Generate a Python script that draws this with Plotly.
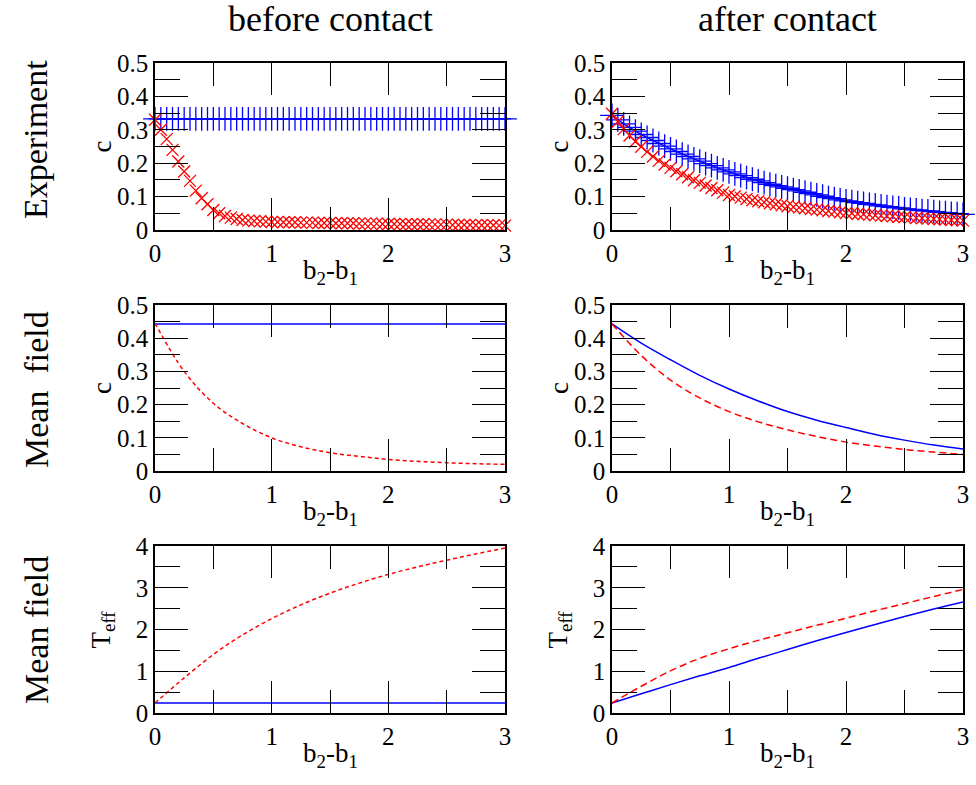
import numpy as np
import plotly.graph_objects as go

# ---------------- data ----------------
x_exp = [round(i * 0.05, 2) for i in range(61)]

exp_before_blue = [0.333] * 61
exp_before_red = [0.330, 0.300, 0.272, 0.240, 0.205, 0.175, 0.147, 0.118, 0.095, 0.077,
                  0.060, 0.050, 0.042, 0.037, 0.033, 0.030, 0.028, 0.027, 0.026, 0.025,
                  0.024,
                  0.024, 0.023, 0.023, 0.023, 0.022, 0.022, 0.022, 0.021, 0.021, 0.021,
                  0.020, 0.020, 0.020, 0.020, 0.019, 0.019, 0.019, 0.019, 0.018, 0.018,
                  0.018, 0.018, 0.017, 0.017, 0.017, 0.017, 0.016, 0.016, 0.016, 0.016,
                  0.015, 0.015, 0.015, 0.015, 0.014, 0.014, 0.014, 0.014, 0.013, 0.013]

exp_after_blue = [0.343, 0.330, 0.318, 0.307, 0.296, 0.286, 0.277, 0.268, 0.259, 0.251,
                  0.243, 0.235, 0.227, 0.220, 0.213, 0.206, 0.199, 0.193, 0.186, 0.180,
                  0.174, 0.168, 0.163, 0.157, 0.152, 0.147, 0.142, 0.137, 0.133, 0.129,
                  0.125, 0.121, 0.117, 0.113, 0.109, 0.105, 0.101, 0.097, 0.094, 0.090,
                  0.087, 0.085, 0.082, 0.080, 0.077, 0.075, 0.072, 0.070, 0.068, 0.066,
                  0.063, 0.062, 0.060, 0.058, 0.057, 0.055, 0.053, 0.052, 0.050, 0.049,
                  0.047]
exp_after_red = [0.348, 0.325, 0.302, 0.283, 0.265, 0.249, 0.234, 0.220, 0.207, 0.196,
                 0.186, 0.176, 0.167, 0.158, 0.149, 0.141, 0.133, 0.126, 0.119, 0.112,
                 0.105, 0.101, 0.097, 0.093, 0.089, 0.086, 0.083, 0.080, 0.077, 0.074,
                 0.071, 0.069, 0.067, 0.065, 0.063, 0.061, 0.059, 0.057, 0.055, 0.053,
                 0.051, 0.050, 0.048, 0.047, 0.046, 0.044, 0.043, 0.042, 0.041, 0.039,
                 0.038, 0.037, 0.036, 0.035, 0.034, 0.033, 0.032, 0.031, 0.030, 0.029,
                 0.028]

x_mf = [0, 0.25, 0.5, 0.75, 1.0, 1.25, 1.5, 1.75, 2.0, 2.25, 2.5, 2.75, 3.0]

mf_c_before_blue = [0.443] * 13
mf_c_before_red = [0.445, 0.300, 0.204, 0.143, 0.100, 0.073, 0.055, 0.044, 0.035, 0.029, 0.025, 0.022, 0.020]
mf_c_after_blue = [0.443, 0.385, 0.335, 0.288, 0.247, 0.211, 0.179, 0.153, 0.131, 0.110, 0.093, 0.078, 0.066]
mf_c_after_red = [0.443, 0.348, 0.274, 0.220, 0.179, 0.148, 0.124, 0.104, 0.087, 0.075, 0.065, 0.057, 0.050]

mf_T_before_blue = [0.24] * 13
mf_T_before_red = [0.24, 0.84, 1.40, 1.87, 2.26, 2.59, 2.87, 3.11, 3.32, 3.50, 3.66, 3.81, 3.95]
mf_T_after_blue = [0.24, 0.46, 0.68, 0.89, 1.09, 1.31, 1.52, 1.73, 1.93, 2.12, 2.31, 2.49, 2.66]
mf_T_after_red = [0.24, 0.64, 1.01, 1.31, 1.54, 1.74, 1.92, 2.10, 2.27, 2.45, 2.62, 2.79, 2.96]

col_titles = ["before contact", "after contact"]
row_titles = ["Experiment", "Mean\u00a0\u00a0field", "Mean field"]

# ---------------- layout ----------------
W, H = 976, 785
FONT = "Liberation Serif, Times New Roman, serif"
BLUE = "#0000ff"
RED = "#ff0000"
DASH_L = "4px,3px"
DASH_R = "7px,4px"

xpix = [(155, 505), (612, 963)]
xdom = [(a / W, b / W) for (a, b) in xpix]
ypix = [(63, 230), (305, 471), (546, 713)]
ydom = [(1 - b / H, 1 - t / H) for (t, b) in ypix]

fig = go.Figure()

def ax_name(i):
    return "" if i == 1 else str(i)

panels = []
idx = 0
for r in range(3):
    for c in range(2):
        idx += 1
        panels.append((r, c, idx))

for r, c, i in panels:
    xa = "xaxis" + ax_name(i)
    ya = "yaxis" + ax_name(i)
    if r < 2:
        yrange, ydt, ymin = [0, 0.5], 0.1, 0.05
    else:
        yrange, ydt, ymin = [0, 4], 1, 0.5
    fig.layout[xa] = dict(
        domain=xdom[c], anchor="y" + ax_name(i), range=[0, 3], dtick=1, tick0=0,
        showgrid=False, zeroline=False, showline=True, linecolor="black", linewidth=1.5,
        mirror="ticks", ticks="inside", ticklen=32, tickwidth=1.3, tickcolor="black",
        minor=dict(dtick=0.5, ticks="inside", ticklen=23, tickwidth=1.3, tickcolor="black", showgrid=False),
        tickfont=dict(family=FONT, size=25, color="black"), fixedrange=True, automargin=False,
    )
    fig.layout[ya] = dict(
        domain=ydom[r], anchor="x" + ax_name(i), range=yrange, dtick=ydt, tick0=0,
        showgrid=False, zeroline=False, showline=True, linecolor="black", linewidth=1.5,
        mirror="ticks", ticks="inside", ticklen=33, tickwidth=1.3, tickcolor="black",
        minor=dict(dtick=ymin, ticks="inside", ticklen=25, tickwidth=1.3, tickcolor="black", showgrid=False),
        tickfont=dict(family=FONT, size=25, color="black"), fixedrange=True, automargin=False,
    )

def add(i, x, y, mode, color, dash=None, symbol=None, size=None):
    kw = dict(x=x, y=y, mode=mode, xaxis="x" + ax_name(i), yaxis="y" + ax_name(i),
              showlegend=False, hoverinfo="skip", cliponaxis=False)
    if "lines" in mode:
        kw["line"] = dict(color=color, width=1.5, dash=dash or "solid", shape="spline" if len(x) < 20 else "linear")
    if "markers" in mode:
        kw["marker"] = dict(symbol=symbol, size=size, color=color, line=dict(color=color, width=1.3))
    fig.add_trace(go.Scatter(**kw))

# Experiment row
add(1, x_exp, exp_before_blue, "lines+markers", BLUE, symbol="cross-thin-open", size=17)
add(1, x_exp, exp_before_red, "markers", RED, symbol="x-thin-open", size=12)
add(2, x_exp, exp_after_blue, "lines+markers", BLUE, symbol="cross-thin-open", size=17)
add(2, x_exp, exp_after_red, "markers", RED, symbol="x-thin-open", size=12)
# Mean field c
add(3, x_mf, mf_c_before_blue, "lines", BLUE)
add(3, x_mf, mf_c_before_red, "lines", RED, dash=DASH_L)
add(4, x_mf, mf_c_after_blue, "lines", BLUE)
add(4, x_mf, mf_c_after_red, "lines", RED, dash=DASH_R)
# Mean field Teff
add(5, x_mf, mf_T_before_blue, "lines", BLUE)
add(5, x_mf, mf_T_before_red, "lines", RED, dash=DASH_L)
add(6, x_mf, mf_T_after_blue, "lines", BLUE)
add(6, x_mf, mf_T_after_red, "lines", RED, dash=DASH_R)

ann = []
def A(text, px, py, size, angle=0):
    ann.append(dict(text=text, x=px / W, y=1 - py / H, xref="paper", yref="paper",
                    xanchor="center", yanchor="middle", showarrow=False, textangle=angle,
                    font=dict(family=FONT, size=size, color="black")))

A(col_titles[0], 330, 19, 36)
A(col_titles[1], 787, 19, 36)
A(row_titles[0], 36, 140, 34, -90)
A(row_titles[1], 36, 390, 34, -90)
A(row_titles[2], 36, 630, 34, -90)

xt = "b<sub>2</sub>-b<sub>1</sub>"
for (t, b), ylab in zip(ypix, ["c", "c", "T<sub>eff</sub>"]):
    for (x0, x1) in xpix:
        A(xt, (x0 + x1) / 2, b + 42, 27)
        A(ylab, x0 - 53, (t + b) / 2, 27, -90)

fig.update_layout(
    template="none",
    width=W, height=H, margin=dict(l=0, r=0, t=0, b=0, pad=0),
    paper_bgcolor="white", plot_bgcolor="white", annotations=ann,
    font=dict(family=FONT, color="black"), showlegend=False,
)

fig.write_html("out.html", config={"displayModeBar": False},
               post_script="document.body.style.margin='0px';document.body.style.overflow='hidden';")
